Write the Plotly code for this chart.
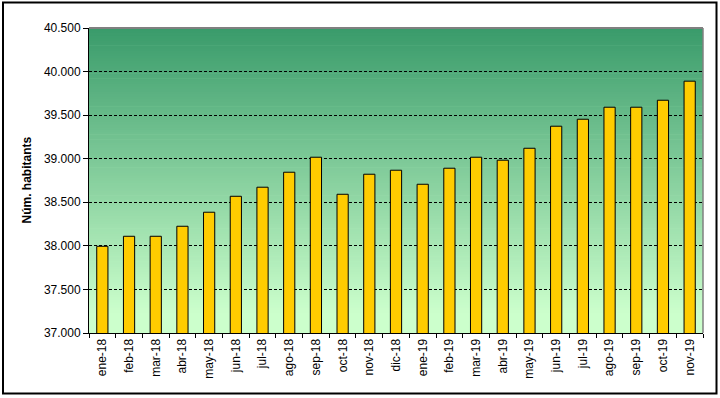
import plotly.graph_objects as go

months = ["ene-18", "feb-18", "mar-18", "abr-18", "may-18", "jun-18", "jul-18", "ago-18",
          "sep-18", "oct-18", "nov-18", "dic-18", "ene-19", "feb-19", "mar-19", "abr-19",
          "may-19", "jun-19", "jul-19", "ago-19", "sep-19", "oct-19", "nov-19"]
habitants = [37995, 38110, 38110, 38225, 38386, 38569, 38673, 38845,
             39017, 38592, 38822, 38868, 38707, 38891, 39017, 38983,
             39120, 39373, 39453, 39591, 39591, 39671, 39890]
y_range = [37000, 40500]
y_dtick = 500
y_title = "Núm. habitants"

FONT = "Liberation Sans, Arial, sans-serif"

fig = go.Figure()
fig.add_trace(go.Bar(
    x=months, y=habitants,
    width=0.42,
    marker=dict(color="#FFCC00", line=dict(color="black", width=1)),
    hoverinfo="x+y",
))

# gradient background in plot area (dark green top -> light green bottom)
shapes = []
n = 120
top = (58, 155, 107)
bot = (204, 255, 204)
for i in range(n):
    t = max(0.0, (i / (n - 1) - 0.06) / 0.94)
    c = tuple(round(bot[k] + (top[k] - bot[k]) * t) for k in range(3))
    shapes.append(dict(type="rect", xref="x domain", yref="y domain",
                       x0=0, x1=1, y0=i / n, y1=(i + 1) / n + 0.002,
                       fillcolor="rgb(%d,%d,%d)" % c, line=dict(width=0), layer="below"))
# gray top and right border of plot area
shapes.append(dict(type="line", xref="paper", yref="paper", x0=0, x1=1, y0=1, y1=1,
                   line=dict(color="#808080", width=2)))
shapes.append(dict(type="line", xref="paper", yref="paper", x0=1, x1=1, y0=0, y1=1,
                   line=dict(color="#808080", width=1.5)))
# outer chart border
shapes.append(dict(type="rect", xref="paper", yref="paper",
                   x0=(3 - 89) / 614, x1=(716.5 - 89) / 614,
                   y0=(333 - 393.5) / 305, y1=(333 - 2.5) / 305,
                   line=dict(color="black", width=2), fillcolor="rgba(0,0,0,0)"))

fig.update_layout(
    width=720, height=398,
    margin=dict(l=89, r=17, t=28, b=65),
    paper_bgcolor="white",
    plot_bgcolor="#CCFFCC",
    separators=",.",
    font=dict(family=FONT, size=12, color="black"),
    showlegend=False,
    shapes=shapes,
    bargap=0.58,
    annotations=[dict(text="<b>" + y_title + "</b>", xref="paper", yref="paper",
                      x=(26 - 89) / 614, y=0.5, textangle=-90, showarrow=False,
                      font=dict(family=FONT, size=12, color="black"),
                      xanchor="center", yanchor="middle")],
)
fig.update_yaxes(
    range=y_range, dtick=y_dtick, tickformat=",.0f",
    showgrid=True, gridcolor="black", gridwidth=1, griddash="3px,2px",
    showline=True, linecolor="black", linewidth=1,
    ticks="outside", ticklen=5, tickcolor="black",
    zeroline=False, automargin=False,
    tickfont=dict(family=FONT, size=12),
)
fig.update_xaxes(
    type="category", tickangle=-90, tickson="boundaries",
    showline=True, linecolor="black", linewidth=1,
    ticks="outside", ticklen=4, tickcolor="black",
    showgrid=False, automargin=False,
    tickfont=dict(family=FONT, size=12),
)

fig.write_html("out.html",
               config={"displayModeBar": False},
               post_script="document.body.style.margin='0';document.body.style.overflow='hidden';")
